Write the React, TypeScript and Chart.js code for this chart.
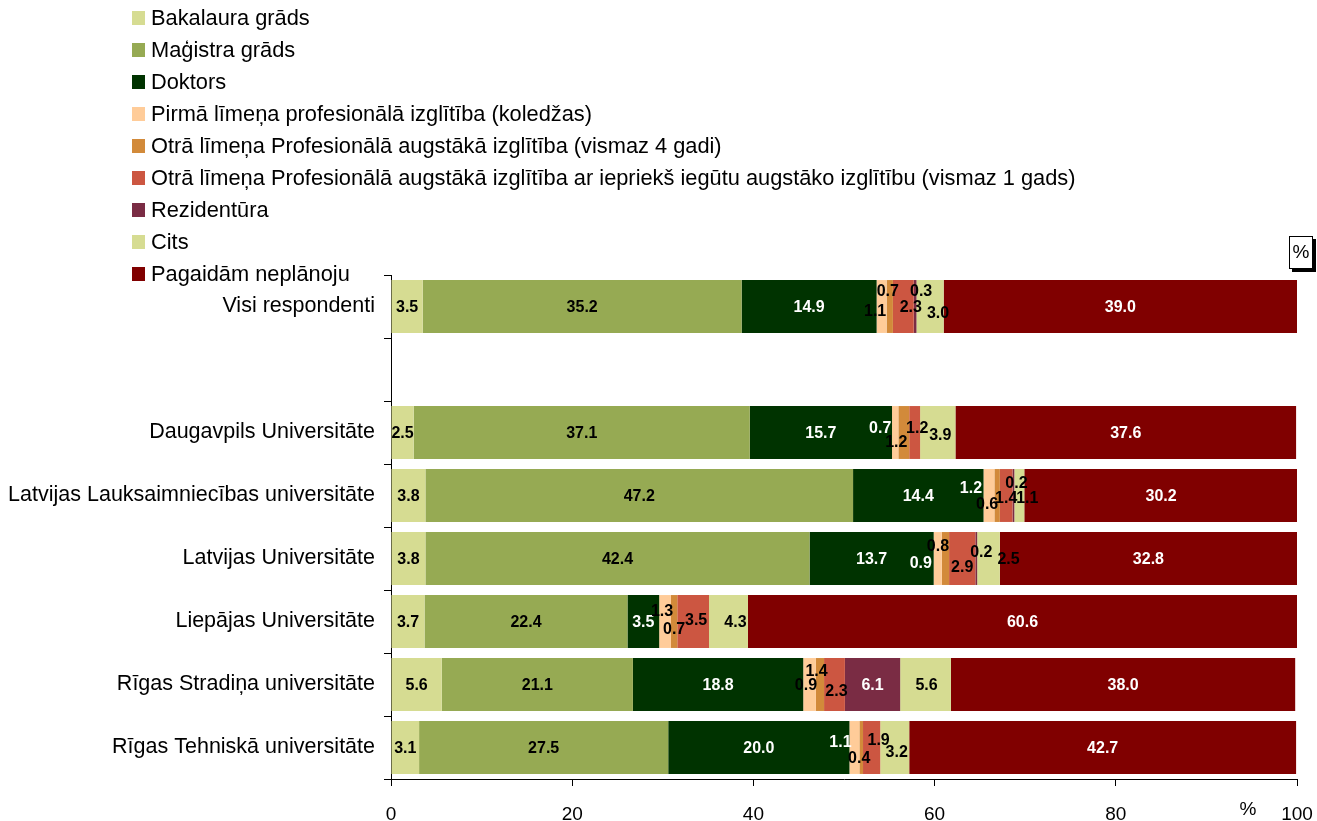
import React, { useEffect, useRef } from "react";
import { Chart, registerables } from "chart.js";
Chart.register(...registerables);

const categories = [
  "Visi respondenti",
  "",
  "Daugavpils Universitāte",
  "Latvijas Lauksaimniecības universitāte",
  "Latvijas Universitāte",
  "Liepājas Universitāte",
  "Rīgas Stradiņa universitāte",
  "Rīgas Tehniskā universitāte",
];

const seriesNames = [
  "Bakalaura grāds",
  "Maģistra grāds",
  "Doktors",
  "Pirmā līmeņa profesionālā izglītība (koledžas)",
  "Otrā līmeņa Profesionālā augstākā izglītība (vismaz 4 gadi)",
  "Otrā līmeņa Profesionālā augstākā izglītība ar iepriekš iegūtu augstāko izglītību (vismaz 1 gads)",
  "Rezidentūra",
  "Cits",
  "Pagaidām neplānoju",
];

const bakalaura = [3.5, null, 2.5, 3.8, 3.8, 3.7, 5.6, 3.1];
const magistra = [35.2, null, 37.1, 47.2, 42.4, 22.4, 21.1, 27.5];
const doktors = [14.9, null, 15.7, 14.4, 13.7, 3.5, 18.8, 20.0];
const pirma = [1.1, null, 0.7, 1.2, 0.9, 1.3, 1.4, 1.1];
const otra4 = [0.7, null, 1.2, 0.6, 0.8, 0.7, 0.9, 0.4];
const otra1 = [2.3, null, 1.2, 1.4, 2.9, 3.5, 2.3, 1.9];
const rezidentura = [0.3, null, 0, 0.2, 0.2, 0, 6.1, 0];
const cits = [3.0, null, 3.9, 1.1, 2.5, 4.3, 5.6, 3.2];
const pagaidam = [39.0, null, 37.6, 30.2, 32.8, 60.6, 38.0, 42.7];

const xTicks = [0, 20, 40, 60, 80, 100];

const seriesColors = [
  "#D6DC92",
  "#96AA53",
  "#003300",
  "#FFCC99",
  "#D28A3A",
  "#CC5641",
  "#7A2C44",
  "#D6DC92",
  "#800000",
];

// label text colors per series
const labelColors = ["#000", "#000", "#fff", "#000", "#000", "#000", "#fff", "#000", "#fff"];
const pirmaLabelColor = ["#000", "#000", "#fff", "#fff", "#fff", "#000", "#000", "#fff"];

// small-segment label nudges (layout only), [dx, dy] per category
const labelShift: Record<number, ([number, number] | null)[]> = {
  3: [[-6.5, 4.5], null, [-15, -5], [-18, -8], [-17, 4], [-3, -11], [7, -14], [-14, -5.5]],
  4: [[-2, -15.5], null, [-7.5, 9], [-10, 8], [-7.5, -13], [0, 7.5], [-14, 0.5], [-2, 10.5]],
  5: [[7.5, 0], null, [2.5, -5], [0, 2], [0, 8], [3, -1.5], [2, 6], [7, -8]],
  6: [[6, -15.5], null, null, [3, -13], [5, -7], null, [0, 0], null],
  7: [[8, 6], null, [2.5, 2.5], [8, 2], [20, 0], [7, 0], [1, 0], [2, 4.5]],
};

const FONT = "'Liberation Sans', Arial, Helvetica, sans-serif";

export default function App() {
  const ref = useRef<HTMLCanvasElement>(null);

  useEffect(() => {
    if (!ref.current) return;
    const series = [bakalaura, magistra, doktors, pirma, otra4, otra1, rezidentura, cits, pagaidam];
    const datasets = series.map((d, i) => ({
      label: seriesNames[i],
      data: d,
      backgroundColor: seriesColors[i],
      borderWidth: 0,
      barPercentage: 0.84,
      categoryPercentage: 1,
    }));

    const valueLabels = {
      id: "valueLabels",
      afterDatasetsDraw(chart: any) {
        const ctx = chart.ctx;
        ctx.save();
        ctx.font = `bold 16px ${FONT}`;
        ctx.textAlign = "center";
        ctx.textBaseline = "middle";
        chart.data.datasets.forEach((ds: any, i: number) => {
          const meta = chart.getDatasetMeta(i);
          meta.data.forEach((el: any, j: number) => {
            const v = ds.data[j];
            if (v === null || v === undefined || v <= 0) return;
            let cx = (el.x + el.base) / 2;
            let cy = el.y;
            const sh = labelShift[i] && labelShift[i][j];
            if (sh) {
              cx += sh[0];
              cy += sh[1];
            }
            let color = labelColors[i];
            if (i === 3) color = pirmaLabelColor[j];
            if (i === 6 && v < 1) color = "#000";
            ctx.fillStyle = color;
            ctx.fillText(v.toFixed(1), cx, cy + 1);
          });
        });
        ctx.restore();
      },
    };

    const overlay = {
      id: "overlay",
      afterDraw(chart: any) {
        const ctx = chart.ctx;
        ctx.save();
        // legend
        ctx.font = `21.8px ${FONT}`;
        ctx.textAlign = "left";
        ctx.textBaseline = "middle";
        chart.data.datasets.forEach((ds: any, i: number) => {
          const y = 18 + i * 32;
          ctx.fillStyle = ds.backgroundColor;
          ctx.fillRect(132, y - 7, 13, 14);
          ctx.fillStyle = "#000";
          ctx.fillText(ds.label, 151, y + 1);
        });
        // % box
        ctx.fillStyle = "#000";
        ctx.fillRect(1292, 239, 24, 33);
        ctx.fillStyle = "#fff";
        ctx.fillRect(1289, 236, 24, 33);
        ctx.strokeStyle = "#000";
        ctx.lineWidth = 1;
        ctx.strokeRect(1289.5, 236.5, 23, 32);
        ctx.fillStyle = "#000";
        ctx.font = `19px ${FONT}`;
        ctx.textAlign = "center";
        ctx.fillText("%", 1301, 253);
        // axis unit
        ctx.fillText("%", 1248, 810);
        ctx.restore();
      },
    };

    const chart = new Chart(ref.current, {
      type: "bar",
      data: { labels: categories, datasets: datasets as any },
      options: {
        indexAxis: "y",
        animation: false,
        responsive: true,
        maintainAspectRatio: false,
        layout: { padding: { top: 275, right: 20, left: 0, bottom: 0 } },
        plugins: { legend: { display: false }, tooltip: { enabled: false } },
        scales: {
          x: {
            stacked: true,
            min: 0,
            max: 100,
            afterBuildTicks: (scale: any) => {
              scale.ticks = xTicks.map((v) => ({ value: v }));
            },
            afterFit: (scale: any) => {
              scale.height = 42;
              scale.paddingRight = 0;
              scale.paddingLeft = 0;
            },
            ticks: { font: { family: FONT, size: 19 }, color: "#000", padding: 17, maxRotation: 0 },
            grid: { drawOnChartArea: false, tickLength: 7, color: "#000" },
            border: { color: "#000" },
          },
          y: {
            type: "category",
            stacked: true,
            offset: true,
            afterFit: (scale: any) => {
              scale.width = 391;
              scale.paddingTop = 0;
              scale.paddingBottom = 0;
            },
            ticks: { font: { family: FONT, size: 21.5 }, color: "#000", padding: 9, autoSkip: false },
            grid: { offset: true, drawOnChartArea: false, tickLength: 7, color: "#000" },
            border: { color: "#000" },
          },
        },
      },
      plugins: [valueLabels, overlay],
    });
    return () => chart.destroy();
  }, []);

  return (
    <div style={{ position: "absolute", left: 0, top: 0, width: 1317, height: 821, background: "#fff" }}>
      <canvas ref={ref} />
    </div>
  );
}
